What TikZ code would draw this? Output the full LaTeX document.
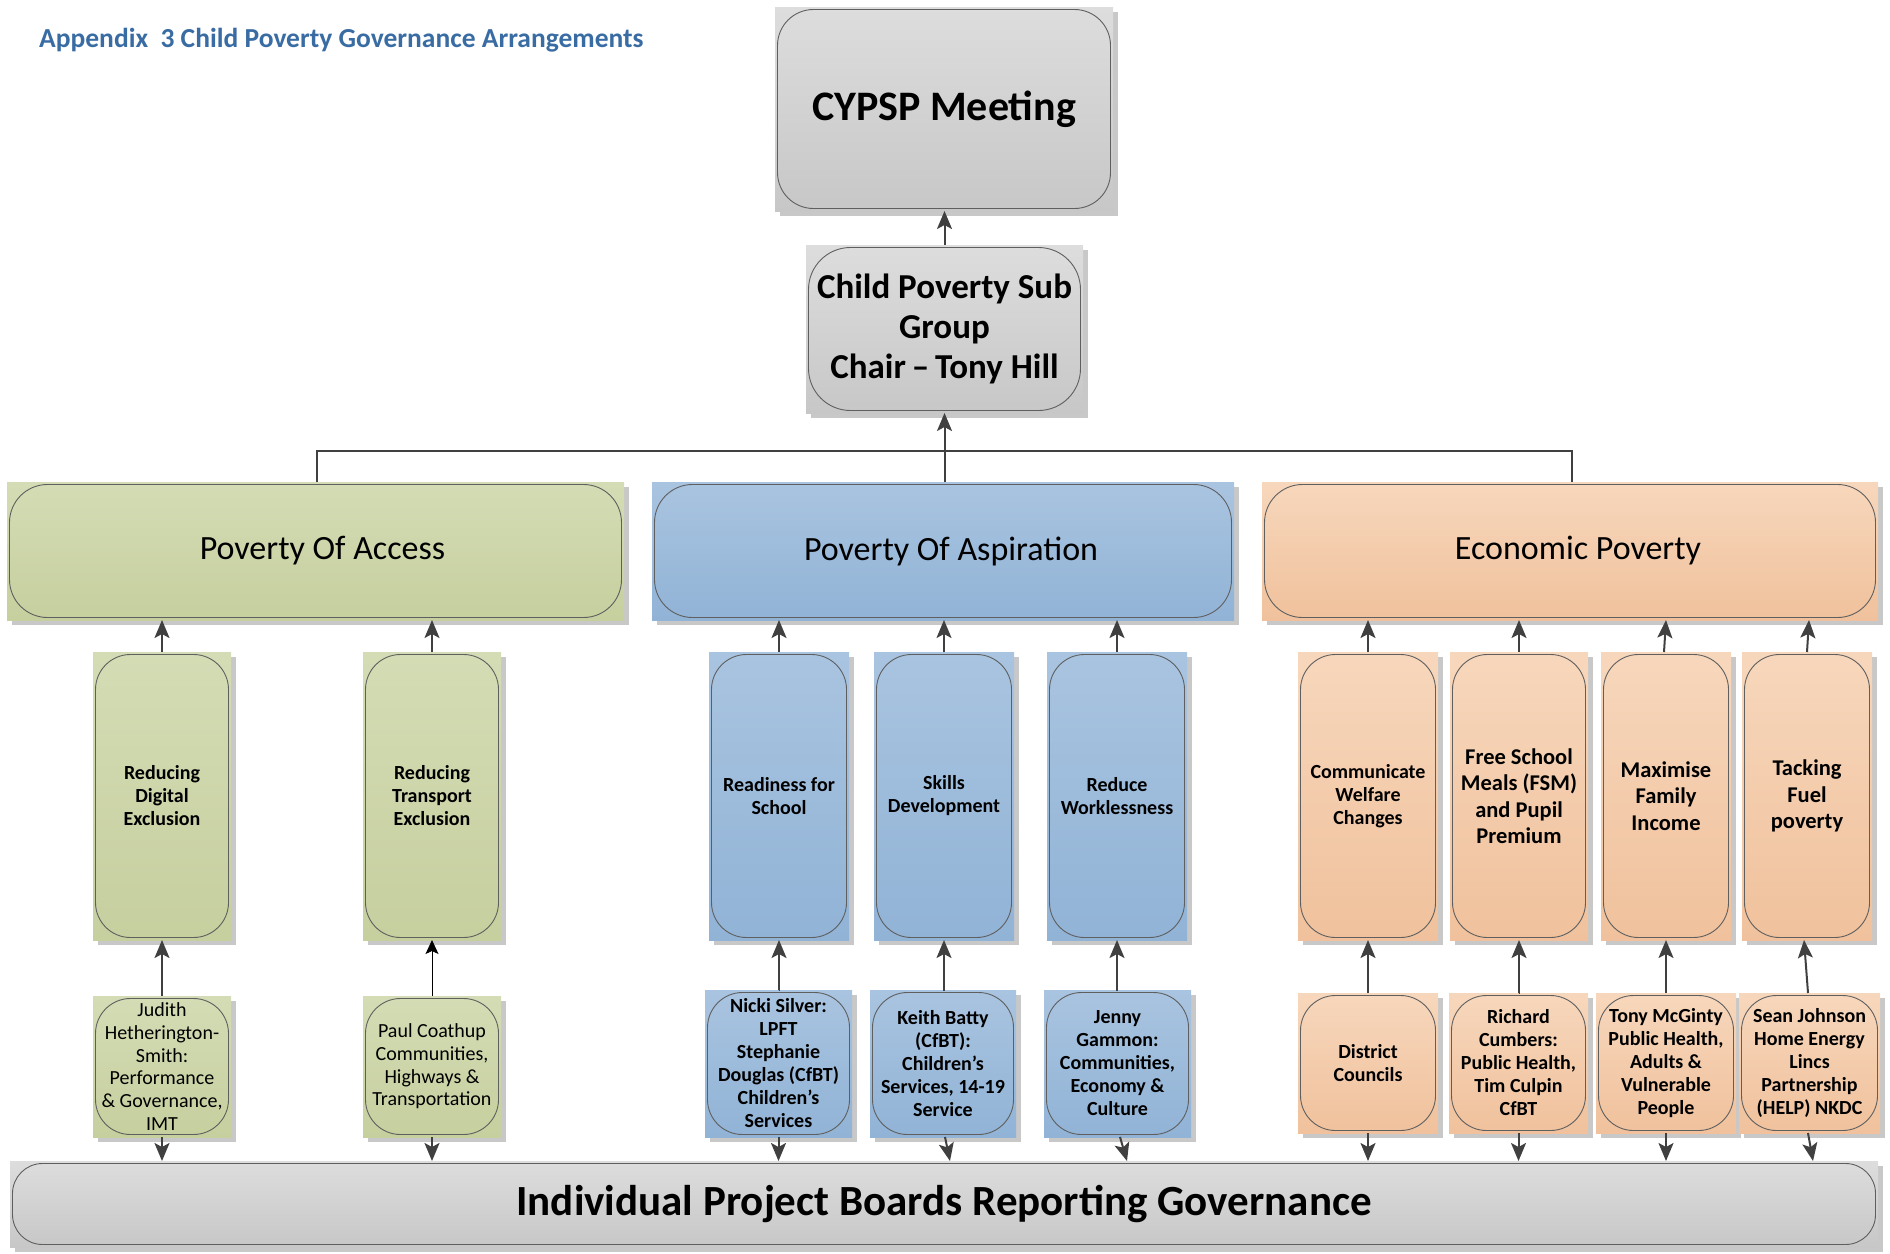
\documentclass[tikz,border=0pt]{standalone}
\usepackage{fontspec}
\setmainfont{Carlito}
\usetikzlibrary{shadows,arrows.meta}
\definecolor{titleblue}{RGB}{58,108,164}
\definecolor{gtop}{RGB}{221,221,221}
\definecolor{gbot}{RGB}{199,199,199}
\definecolor{ltop}{RGB}{212,220,181}
\definecolor{lbot}{RGB}{198,207,158}
\definecolor{btop}{RGB}{169,196,224}
\definecolor{bbot}{RGB}{145,179,214}
\definecolor{otop}{RGB}{247,215,188}
\definecolor{obot}{RGB}{240,193,156}
\definecolor{shad}{RGB}{200,200,200}
\definecolor{outl}{RGB}{95,95,95}
\definecolor{conncol}{RGB}{64,64,64}
\tikzset{
  boxbase/.style={rectangle, inner sep=0pt, outer sep=0pt, align=center,
    drop shadow={shadow xshift=5pt, shadow yshift=-5pt, fill=shad, opacity=1}},
  rr/.style={path picture={\draw[draw=outl, line width=0.9pt, rounded corners=#1]
    ([shift={(2.5pt,-2.5pt)}]path picture bounding box.north west) rectangle
    ([shift={(-2.5pt,2.5pt)}]path picture bounding box.south east);}},
  graybox/.style={boxbase, top color=gtop, bottom color=gbot},
  greenbox/.style={boxbase, top color=ltop, bottom color=lbot},
  bluebox/.style={boxbase, top color=btop, bottom color=bbot},
  orangebox/.style={boxbase, top color=otop, bottom color=obot},
  lvltwo/.style={rr=38pt, minimum height=138pt, font=\fontsize{34}{40}\selectfont},
  lvlthree/.style={rr=35pt, minimum height=288pt, font=\fontsize{20}{23}\selectfont\bfseries},
  lvlthreebig/.style={rr=35pt, minimum height=288pt, font=\fontsize{22.5}{26.5}\selectfont\bfseries},
  lvlfour/.style={rr=35pt, font=\fontsize{20}{23}\selectfont\bfseries},
  lvlfourreg/.style={rr=35pt, minimum height=141pt, font=\fontsize{20}{22.7}\selectfont},
  conn/.style={draw=conncol, line width=2pt},
  arr/.style={conn, -{Stealth[length=18pt,width=15pt,inset=4pt]}},
  thinarr/.style={draw=black, line width=0.8pt, -{Stealth[length=14pt,width=13pt,inset=3pt]}}
}
\begin{document}
\begin{tikzpicture}[x=1pt,y=-1pt]
\useasboundingbox (0,0) rectangle (1890,1253);
\node[anchor=west, inner sep=0pt, text=titleblue, font=\fontsize{27.5}{33}\selectfont\bfseries] (title) at (39,40) {Appendix\ \ 3 Child Poverty Governance Arrangements};

% top levels
\node[graybox, rr=36pt, minimum width=338pt, minimum height=204pt, font=\fontsize{42}{50}\selectfont\bfseries] (cypsp) at (944,109) {CYPSP Meeting};
\node[graybox, rr=42pt, minimum width=277pt, minimum height=168pt, font=\fontsize{35}{40}\selectfont\bfseries] (child) at (944.5,329) {Child Poverty Sub\\Group\\Chair\,--\,Tony Hill};

% level 2
\node[greenbox, lvltwo, minimum width=617pt] (access) at (315.5,551) {\hspace*{14pt}Poverty Of Access};
\node[bluebox, lvltwo, minimum width=582pt] (aspir) at (943,551) {\hspace*{16pt}Poverty Of Aspiration};
\node[orangebox, lvltwo, minimum width=616pt] (econ) at (1570,551) {\hspace*{16pt}Economic Poverty};

% level 3
\node[greenbox, lvlthree, minimum width=138pt] (dig) at (162,796) {Reducing\\Digital\\Exclusion};
\node[greenbox, lvlthree, minimum width=138pt] (trans) at (432,796) {Reducing\\Transport\\Exclusion};
\node[bluebox, lvlthree, minimum width=140pt] (ready) at (779,796) {Readiness for\\School};
\node[bluebox, lvlthree, minimum width=140pt] (skills) at (944,796) {Skills\\Development};
\node[bluebox, lvlthree, minimum width=140pt] (work) at (1117,796) {Reduce\\Worklessness};
\node[orangebox, lvlthree, minimum width=140pt] (comm) at (1368,796) {Communicate\\Welfare\\Changes};
\node[orangebox, lvlthreebig, minimum width=138pt] (fsm) at (1519,796) {Free School\\Meals (FSM)\\and Pupil\\Premium};
\node[orangebox, lvlthreebig, minimum width=130pt] (maxi) at (1666,796) {Maximise\\Family\\Income};
\node[orangebox, lvlthreebig, minimum width=130pt] (fuel) at (1807,796) {Tacking\\Fuel\\poverty};

% level 4
\node[greenbox, lvlfourreg, minimum width=138pt] (judith) at (162,1066.5) {Judith\\Hetherington-\\Smith:\\Performance\\\& Governance,\\IMT};
\node[greenbox, lvlfourreg, minimum width=138pt] (paul) at (432,1066.5) {Paul Coathup\\Communities,\\Highways \&\\Transportation};
\node[bluebox, lvlfour, minimum width=147pt, minimum height=147pt] (nicki) at (778.5,1063.5) {Nicki Silver:\\LPFT\\Stephanie\\Douglas (CfBT)\\Children’s\\Services};
\node[bluebox, lvlfour, minimum width=146pt, minimum height=147pt] (keith) at (943,1063.5) {Keith Batty\\(CfBT):\\Children’s\\Services, 14-19\\Service};
\node[bluebox, lvlfour, minimum width=147pt, minimum height=147pt] (jenny) at (1117.5,1063.5) {Jenny\\Gammon:\\Communities,\\Economy \&\\Culture};
\node[orangebox, lvlfour, minimum width=140pt, minimum height=140pt] (district) at (1368,1063) {District\\Councils};
\node[orangebox, lvlfour, minimum width=139pt, minimum height=140pt] (richard) at (1518.5,1063) {Richard\\Cumbers:\\Public Health,\\Tim Culpin\\CfBT};
\node[orangebox, lvlfour, minimum width=140pt, minimum height=140pt] (tony) at (1666,1063) {Tony McGinty\\Public Health,\\Adults \&\\Vulnerable\\People};
\node[orangebox, lvlfour, minimum width=141pt, minimum height=140pt] (sean) at (1809.5,1063) {Sean Johnson\\Home Energy\\Lincs\\Partnership\\(HELP) NKDC};

% bottom bar
\node[graybox, rr=30pt, minimum width=1868pt, minimum height=86pt, font=\fontsize{43}{50}\selectfont\bfseries] (bar) at (944,1204) {Individual Project Boards Reporting Governance};

% connectors top
\draw[arr] (child.north) -- (child.north |- cypsp.south);
\draw[arr] (aspir.north -| child.south) -- (child.south);
\coordinate (dropA) at (317,451);
\coordinate (dropE) at (1572,451);
\draw[conn] (dropA |- access.north) -- (dropA) -- (dropE) -- (dropE |- econ.north);

% level 3 -> level 2
\foreach \n/\p in {dig/access, trans/access, ready/aspir, skills/aspir, work/aspir, comm/econ, fsm/econ}
  \draw[arr] (\n.north) -- (\n.north |- \p.south);
\draw[arr] ([xshift=-2pt]maxi.north) -- ([xshift=0pt]maxi.north |- econ.south);
\draw[arr] (fuel.north) -- ([xshift=2pt]fuel.north |- econ.south);

% level 4 -> level 3
\foreach \n/\p in {judith/dig, nicki/ready, keith/skills, jenny/work, district/comm, richard/fsm, tony/maxi}
  \draw[arr] (\n.north) -- (\n.north -| \p.south) -- (\p.south);
\draw[thinarr] (paul.north) -- (trans.south);
\draw[arr] ([xshift=-1.5pt]sean.north) -- ([xshift=-3pt]fuel.south);

% level 4 -> bar
\foreach \n in {judith, paul, nicki, district, richard, tony}
  \draw[arr] (\n.south) -- (\n.south |- bar.north);
\draw[arr] ([xshift=2pt]keith.south) -- ([xshift=7pt]keith.south |- bar.north);
\draw[arr] ([xshift=2.5pt]jenny.south) -- ([xshift=9.5pt]jenny.south |- bar.north);
\draw[arr] ([xshift=-1.5pt]sean.south) -- ([xshift=3.5pt]sean.south |- bar.north);
\end{tikzpicture}
\end{document}
